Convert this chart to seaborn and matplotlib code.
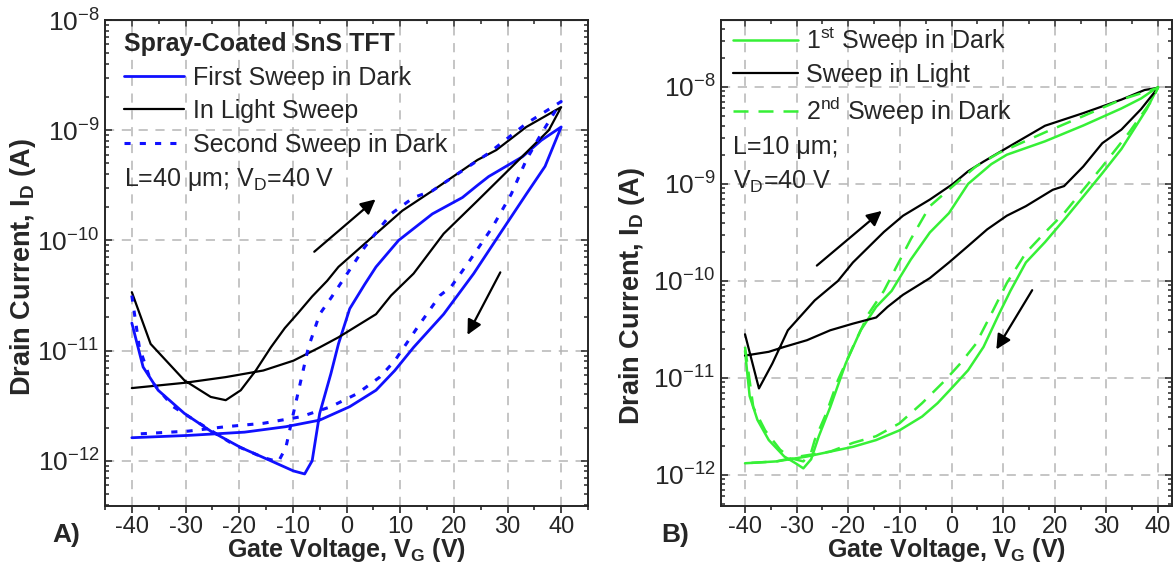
import numpy as np
import pandas as pd
import seaborn as sns
import matplotlib.pyplot as plt
from matplotlib.ticker import LogLocator, MultipleLocator, NullFormatter

# --- DATA ---
# Panel A: L = 40 um, each sweep goes -40 -> 40 (fwd) then 40 -> -40 (rev)
a_light_fwd_x = [-40, -36.5, -30.2, -25.3, -22.5, -19.7, -16.9, -14.1, -11.5, -9.0, -6.4, -3.6, -1.5, 5.5, 10.4, 16,
                 24.4, 27.9, 33.5, 40]
a_light_fwd_y = [3.39e-11, 1.15e-11, 5.37e-12, 3.8e-12, 3.55e-12, 4.37e-12, 6.6e-12, 1.07e-11, 1.6e-11, 2.2e-11,
                 3.1e-11, 4.3e-11, 5.75e-11, 1.15e-10, 1.86e-10, 2.82e-10, 5.37e-10, 6.6e-10, 1.07e-9, 1.62e-9]
a_light_rev_x = [40, 37.7, 32.1, 24.4, 18.1, 12.5, 8.3, 5.5, -1.5, -5, -9.9, -15.5, -22.5, -30.2, -40]
a_light_rev_y = [1.62e-9, 1.0e-9, 5.37e-10, 2.29e-10, 1.15e-10, 5.0e-11, 3.16e-11, 2.14e-11, 1.32e-11, 1.07e-11,
                 8.1e-12, 6.6e-12, 5.75e-12, 5.1e-12, 4.57e-12]

a_dark1_fwd_x = [-40, -37.9, -35.1, -30.2, -25.3, -19.7, -14.1, -9.9, -7.8, -6.4, -5, -2.9, -1.5, 0.6, 3.4, 5.5,
                 9.7, 16, 21.6, 24.4, 26.5, 32.8, 36.3, 40]
a_dark1_fwd_y = [1.78e-11, 7.1e-12, 4.37e-12, 2.69e-12, 1.86e-12, 1.32e-12, 1.0e-12, 8.1e-13, 7.6e-13, 1.0e-12,
                 2.69e-12, 6.2e-12, 1.15e-11, 2.4e-11, 4.0e-11, 5.75e-11, 1.0e-10, 1.74e-10, 2.45e-10, 3.16e-10,
                 3.8e-10, 5.75e-10, 8.1e-10, 1.07e-9]
a_dark1_rev_x = [40, 37, 33.5, 28.6, 23.7, 18.1, 12.5, 9, 5.5, 0.6, -5, -11.3, -19, -29.5, -40]
a_dark1_rev_y = [1.07e-9, 4.7e-10, 2.63e-10, 1.15e-10, 5.0e-11, 2.14e-11, 1.07e-11, 6.6e-12, 4.37e-12, 3.1e-12,
                 2.34e-12, 2.04e-12, 1.82e-12, 1.7e-12, 1.62e-12]

a_dark2_fwd_x = [-40, -38.6, -36.5, -32.3, -27.4, -21.1, -15.5, -12.7, -11.3, -9.9, -8.5, -7.1, -5, -2.9, -0.8,
                 3.4, 8.3, 12.5, 16, 26.5, 33.5, 40]
a_dark2_fwd_y = [3.16e-11, 1.07e-11, 5.37e-12, 3.1e-12, 2.19e-12, 1.41e-12, 1.07e-12, 9.8e-13, 1.32e-12, 2.69e-12,
                 5.37e-12, 1.07e-11, 2.14e-11, 3.0e-11, 4.27e-11, 8.7e-11, 1.74e-10, 2.45e-10, 2.82e-10, 6.2e-10,
                 1.15e-9, 1.82e-9]
a_dark2_rev_x = [40, 36.3, 33.5, 30.7, 27.2, 23, 19.5, 17.4, 13.2, 9, 6.2, 2, -2.9, -8.5, -15.5, -22.5, -29.5, -40]
a_dark2_rev_y = [1.82e-9, 9.3e-10, 5.37e-10, 2.63e-10, 1.32e-10, 6.6e-11, 3.8e-11, 3.16e-11, 1.62e-11, 8.1e-12,
                 5.75e-12, 4.07e-12, 3.1e-12, 2.51e-12, 2.19e-12, 2.04e-12, 1.86e-12, 1.74e-12]

# Panel B: L = 10 um
b_light_fwd_x = [-40, -37.3, -34.7, -31.7, -26.5, -22, -19.1, -13.1, -9.4, -4.2, 0.26, 3.2, 6.2, 10.7, 18.1, 25.5,
                 32.9, 37.4, 40]
b_light_fwd_y = [2.82e-11, 7.8e-12, 1.41e-11, 3.1e-11, 6.3e-11, 1.0e-10, 1.55e-10, 3.2e-10, 4.7e-10, 6.9e-10,
                 1.0e-9, 1.35e-9, 1.7e-9, 2.35e-9, 3.98e-9, 5.37e-9, 7.4e-9, 9.3e-9, 9.8e-9]
b_light_rev_x = [40, 36.7, 32.9, 29.2, 25.5, 21.8, 19.6, 14.4, 10.7, 6.9, 3.2, -0.5, -4.2, -9.4, -12.4, -14.6,
                 -19.1, -23.5, -28, -32.4, -35.4, -40]
b_light_rev_y = [9.8e-9, 5.9e-9, 3.63e-9, 2.63e-9, 1.51e-9, 9.5e-10, 8.7e-10, 5.9e-10, 4.7e-10, 3.4e-10, 2.29e-10,
                 1.55e-10, 1.07e-10, 7.2e-11, 5.4e-11, 4.2e-11, 3.63e-11, 3.1e-11, 2.45e-11, 2.09e-11, 1.86e-11, 1.7e-11]

b_dark1_fwd_x = [-40, -39.1, -37.6, -35.4, -32.4, -30.2, -28.7, -27.2, -25.7, -23.5, -20.5, -17.6, -14.6, -11.6,
                 -7.9, -4.2, -0.5, 3.2, 7.7, 10.7, 18.1, 25.5, 32.9, 36.7, 40]
b_dark1_fwd_y = [1.9e-11, 6.5e-12, 3.7e-12, 2.29e-12, 1.55e-12, 1.32e-12, 1.17e-12, 1.45e-12, 2.51e-12, 5.0e-12,
                 1.41e-11, 3.1e-11, 5.4e-11, 7.9e-11, 1.66e-10, 3.16e-10, 5.0e-10, 1.0e-9, 1.6e-9, 2.0e-9,
                 2.75e-9, 4.0e-9, 6.0e-9, 7.6e-9, 1.0e-8]
b_dark1_rev_x = [40, 37.8, 32.9, 29.2, 25.5, 21.8, 18.1, 14.4, 11.4, 9.2, 6.2, 3.2, 0.26, -2.7, -5.7, -10.1,
                 -14.6, -19.1, -23.5, -28, -33.9, -40]
b_dark1_rev_y = [1.0e-8, 5.9e-9, 2.29e-9, 1.29e-9, 7.4e-10, 4.27e-10, 2.51e-10, 1.55e-10, 7.9e-11, 4.57e-11,
                 2.09e-11, 1.2e-11, 8.1e-12, 5.5e-12, 4.0e-12, 2.88e-12, 2.29e-12, 1.95e-12, 1.74e-12, 1.55e-12,
                 1.38e-12, 1.32e-12]

b_dark2_fwd_x = [-40, -38.4, -36.1, -33.2, -31, -28.7, -27.2, -26.5, -24.3, -22, -19.1, -16.1, -13.1, -7.9, -4.2,
                 0.26, 4.7, 9.2, 18.1, 25.5, 32.9, 40]
b_dark2_fwd_y = [2.09e-11, 5.0e-12, 2.88e-12, 1.82e-12, 1.48e-12, 1.38e-12, 1.7e-12, 2.29e-12, 4.27e-12, 9.5e-12,
                 2.09e-11, 4.57e-11, 7.9e-11, 2.69e-10, 5.9e-10, 9.5e-10, 1.51e-9, 2.09e-9, 3.4e-9, 5.0e-9,
                 7.4e-9, 9.8e-9]
b_dark2_rev_x = [40, 38.9, 34.4, 29.2, 25.5, 21.8, 18.1, 14.4, 10.7, 7.7, 4.7, 1.7, -1.2, -5.7, -10.1, -14.6,
                 -19.1, -23.5, -29.5, -33.9, -40]
b_dark2_rev_y = [9.8e-9, 7.4e-9, 3.4e-9, 1.51e-9, 8.7e-10, 5.0e-10, 3.16e-10, 1.95e-10, 9.5e-11, 4.57e-11,
                 2.24e-11, 1.41e-11, 9.5e-12, 5.5e-12, 3.4e-12, 2.51e-12, 2.14e-12, 1.74e-12, 1.55e-12, 1.38e-12,
                 1.32e-12]

# sweep-direction arrows: (tail x, tail y, head x, head y)
a_arrows = [(-6.4, 7.6e-11, 5.8, 2.45e-10), (28.9, 5.4e-11, 22.3, 1.32e-11)]
b_arrows = [(-26.5, 1.38e-10, -13.1, 5.5e-10), (15.9, 8.5e-11, 8.4, 1.86e-11)]

BLUE = "#1010ff"
GREEN = "#36f036"

sns.set_style("ticks")
plt.rcParams["font.family"] = ["Liberation Sans", "DejaVu Sans"]
plt.rcParams["mathtext.fontset"] = "custom"
plt.rcParams["mathtext.rm"] = "Liberation Sans"
plt.rcParams["mathtext.it"] = "Liberation Sans:italic"
plt.rcParams["mathtext.bf"] = "Liberation Sans:bold"
plt.rcParams["axes.unicode_minus"] = False


def sweep(fx, fy, rx, ry):
    return pd.DataFrame({"vg": fx + rx, "id": fy + ry})


def draw(ax, df, color, lw, ls, label):
    sns.lineplot(data=df, x="vg", y="id", sort=False, estimator=None, ax=ax,
                 color=color, lw=lw, linestyle=ls, label=label)


def style_axes(ax, xlim, ylim):
    ax.set_yscale("log")
    ax.set_xlim(*xlim)
    ax.set_ylim(*ylim)
    ax.xaxis.set_major_locator(MultipleLocator(10))
    ax.xaxis.set_minor_locator(MultipleLocator(5))
    ax.yaxis.set_major_locator(LogLocator(base=10, numticks=20))
    ax.yaxis.set_minor_locator(LogLocator(base=10, subs=np.arange(2, 10), numticks=20))
    ax.yaxis.set_minor_formatter(NullFormatter())
    ax.grid(True, which="major", color="#b5b5b5", ls=(0, (6, 5)), lw=1.1)
    for s in ax.spines.values():
        s.set_linewidth(1.4)
        s.set_visible(True)
    ax.tick_params(axis="x", which="both", direction="out", top=False, labelsize=17, pad=2, width=1.2)
    ax.tick_params(axis="x", which="major", length=5)
    ax.tick_params(axis="x", which="minor", length=3)
    ax.tick_params(axis="y", which="both", direction="in", right=True, labelsize=19, pad=4, width=1.1)
    ax.tick_params(axis="y", which="major", length=5)
    ax.tick_params(axis="y", which="minor", length=3)
    # inward ticks along the top edge
    top = ax.secondary_xaxis("top")
    top.xaxis.set_major_locator(MultipleLocator(10))
    top.xaxis.set_minor_locator(MultipleLocator(5))
    top.tick_params(which="both", direction="in", labeltop=False, width=1.1)
    top.tick_params(which="major", length=5)
    top.tick_params(which="minor", length=3)
    ax.set_xlabel("")
    ax.set_ylabel("")
    ax.text(0.5, -0.104, r"Gate Voltage, V$_\mathbf{G}$ (V)", transform=ax.transAxes,
            ha="center", va="baseline", fontsize=18, fontweight="bold")


fig = plt.figure(figsize=(11.73, 5.83), dpi=100)
axA = fig.add_axes([105 / 1173, 77 / 583, 483 / 1173, 486 / 583])
axB = fig.add_axes([721 / 1173, 77 / 583, 451 / 1173, 486 / 583])

# --- panel A ---
draw(axA, sweep(a_dark1_fwd_x, a_dark1_fwd_y, a_dark1_rev_x, a_dark1_rev_y), BLUE, 2.0, "-", "First Sweep in Dark")
draw(axA, sweep(a_light_fwd_x, a_light_fwd_y, a_light_rev_x, a_light_rev_y), "black", 1.6, "-", "In Light Sweep")
draw(axA, sweep(a_dark2_fwd_x, a_dark2_fwd_y, a_dark2_rev_x, a_dark2_rev_y), BLUE, 2.2, (0, (2, 3)),
     "Second Sweep in Dark")
style_axes(axA, (-45, 45), (10 ** -12.41, 1e-8))
axA.legend(title="Spray-Coated SnS TFT", loc="upper left", bbox_to_anchor=(0.039, 0.975),
           frameon=False, fontsize=18, title_fontproperties={"weight": "bold", "size": 18},
           alignment="left", handlelength=2.4, handletextpad=0.35, labelspacing=0.38,
           borderaxespad=0, borderpad=0)
axA.text(0.039, 0.672, r"L=40 μm; V$_\mathregular{D}$=40 V", transform=axA.transAxes,
         ha="left", va="center", fontsize=18)
axA.text(-0.17, 0.492, r"Drain Current, I$_\mathbf{D}$ (A)", transform=axA.transAxes, rotation=90,
         ha="center", va="center", fontsize=19.5, fontweight="bold")
for x0, y0, x1, y1 in a_arrows:
    axA.annotate("", xy=(x1, y1), xytext=(x0, y0),
                 arrowprops=dict(arrowstyle="-|>", color="black", lw=1.6, mutation_scale=22))

# --- panel B ---
draw(axB, sweep(b_dark1_fwd_x, b_dark1_fwd_y, b_dark1_rev_x, b_dark1_rev_y), GREEN, 1.8, "-",
     r"1$^\mathregular{st}$ Sweep in Dark")
draw(axB, sweep(b_light_fwd_x, b_light_fwd_y, b_light_rev_x, b_light_rev_y), "black", 1.6, "-", "Sweep in Light")
draw(axB, sweep(b_dark2_fwd_x, b_dark2_fwd_y, b_dark2_rev_x, b_dark2_rev_y), GREEN, 1.8, (0, (6, 4)),
     r"2$^\mathregular{nd}$ Sweep in Dark")
style_axes(axB, (-44.65, 42.7), (10 ** -12.32, 10 ** -7.31))
axB.legend(loc="upper left", bbox_to_anchor=(0.027, 0.99), frameon=False, fontsize=18,
           handlelength=2.6, handletextpad=0.3, labelspacing=0.3, borderaxespad=0, borderpad=0)
axB.text(0.027, 0.739, "L=10 μm;", transform=axB.transAxes, ha="left", va="center", fontsize=18)
axB.text(0.027, 0.667, r"V$_\mathregular{D}$=40 V", transform=axB.transAxes, ha="left", va="center", fontsize=18)
axB.text(-0.197, 0.432, r"Drain Current, I$_\mathbf{D}$ (A)", transform=axB.transAxes, rotation=90,
         ha="center", va="center", fontsize=19.5, fontweight="bold")
for x0, y0, x1, y1 in b_arrows:
    axB.annotate("", xy=(x1, y1), xytext=(x0, y0),
                 arrowprops=dict(arrowstyle="-|>", color="black", lw=1.6, mutation_scale=22))

fig.text(66 / 1173, 1 - 542 / 583, "A)", ha="center", va="baseline", fontsize=19, fontweight="bold")
fig.text(675 / 1173, 1 - 542 / 583, "B)", ha="center", va="baseline", fontsize=19, fontweight="bold")

fig.savefig("out.png", dpi=100)
